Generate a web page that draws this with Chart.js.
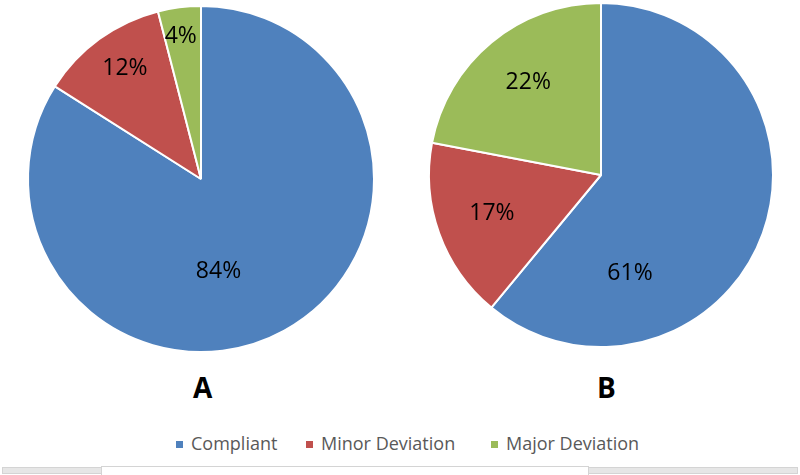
<!DOCTYPE html>
<html>
<head>
<meta charset="utf-8">
<script src="https://cdn.jsdelivr.net/npm/chart.js@4"></script>
<style>
  html, body { margin:0; padding:0; background:#fff; }
  body { width:800px; height:475px; position:relative; overflow:hidden; font-family:"Open Sans", sans-serif; }
  .pie { position:absolute; }
  .title { position:absolute; font-family:"Open Sans", sans-serif; font-weight:bold; font-size:28px; color:#000; line-height:1; }
  .leg { position:absolute; top:432px; font-size:18px; color:#595959; line-height:22px; white-space:nowrap; }
  .leg span.sw { display:inline-block; width:7px; height:7px; margin-right:8px; vertical-align:2px; }
  .bar { position:absolute; background:#e6e6e6; border:1px solid #d4d4d4; box-sizing:border-box; }
</style>
</head>
<body>
<canvas id="pieA" class="pie" width="360" height="360" style="left:21px; top:-1px;"></canvas>
<canvas id="pieB" class="pie" width="360" height="360" style="left:421px; top:-5px;"></canvas>
<div class="title" id="titleA" style="left:193px; top:373px;"></div>
<div class="title" id="titleB" style="left:597px; top:373px;"></div>
<div id="legend"></div>
<div class="bar" style="left:2px; top:467px; width:100px; height:7px;"></div>
<div class="bar" style="left:101px; top:466px; width:488px; height:12px; background:#fff; border-bottom:none;"></div>
<div class="bar" style="left:588px; top:467px; width:210px; height:7px;"></div>
<script>
// ---- data ----
const categories = ["Compliant", "Minor Deviation", "Major Deviation"];
const chartTitles = ["A", "B"];
const valuesA = [84, 12, 4];
const valuesB = [61, 17, 22];

// ---- style ----
const colors = ["#4F81BD", "#C0504D", "#9BBB59"];
// label placement per slice: [fraction of radius, angle offset in degrees from slice mid-angle]
const placeA = [[0.54, 18], [0.78, 1.7], [0.84, -0.8]];
const placeB = [[0.59, 53.6], [0.67, 0.9], [0.69, 1.8]];

const pctLabels = {
  id: 'pctLabels',
  afterDatasetsDraw(chart, args, opts) {
    const ctx = chart.ctx;
    const meta = chart.getDatasetMeta(0);
    const data = chart.data.datasets[0].data;
    const total = data.reduce((a, b) => a + b, 0);
    ctx.save();
    ctx.font = '23px "Open Sans", sans-serif';
    ctx.fillStyle = '#000';
    ctx.textAlign = 'center';
    ctx.textBaseline = 'middle';
    meta.data.forEach((arc, i) => {
      const p = arc.getProps(['x', 'y', 'startAngle', 'endAngle', 'outerRadius'], true);
      const pl = opts.place[i];
      const a = (p.startAngle + p.endAngle) / 2 + pl[1] * Math.PI / 180;
      const r = p.outerRadius * pl[0];
      const txt = Math.round(data[i] / total * 100) + '%';
      ctx.fillText(txt, p.x + r * Math.cos(a), p.y + r * Math.sin(a) + 1);
    });
    ctx.restore();
  }
};

function makePie(id, values, radius, place) {
  return new Chart(document.getElementById(id), {
    type: 'pie',
    data: {
      labels: categories,
      datasets: [{ data: values, backgroundColor: colors, borderColor: '#ffffff', borderWidth: 2 }]
    },
    options: {
      responsive: false,
      animation: false,
      devicePixelRatio: 1,
      radius: radius,
      layout: { padding: 0 },
      plugins: { legend: { display: false }, tooltip: { enabled: false }, pctLabels: { place: place } }
    },
    plugins: [pctLabels]
  });
}

makePie('pieA', valuesA, 173, placeA);
makePie('pieB', valuesB, 172, placeB);

document.getElementById('titleA').textContent = chartTitles[0];
document.getElementById('titleB').textContent = chartTitles[1];

const legendLeft = [176, 306, 491];
const legend = document.getElementById('legend');
categories.forEach((c, i) => {
  const d = document.createElement('div');
  d.className = 'leg';
  d.style.left = legendLeft[i] + 'px';
  const sw = document.createElement('span');
  sw.className = 'sw';
  sw.style.background = colors[i];
  d.appendChild(sw);
  d.appendChild(document.createTextNode(c));
  legend.appendChild(d);
});
</script>
</body>
</html>
